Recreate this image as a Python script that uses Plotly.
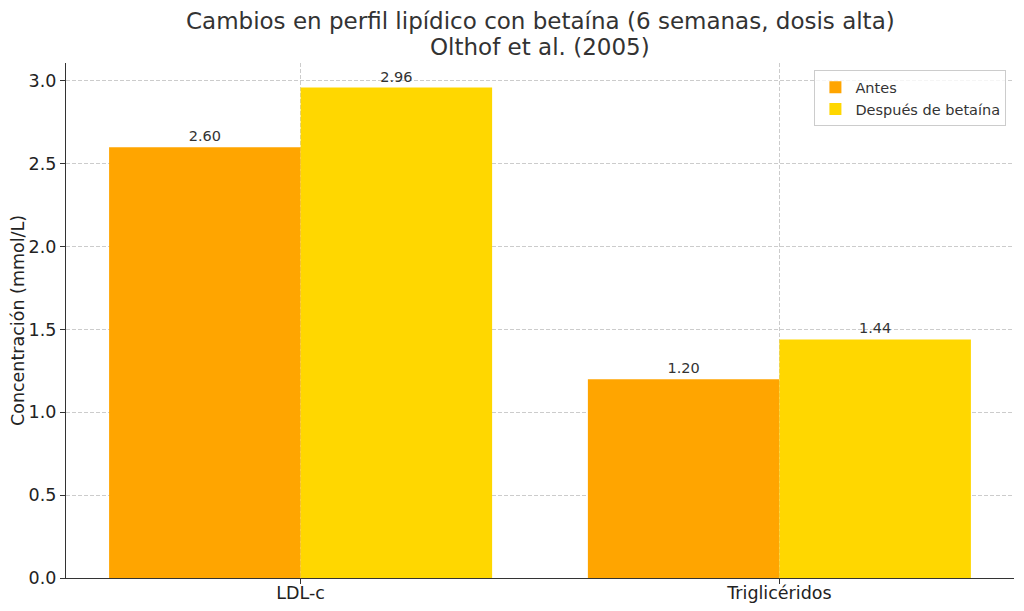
import plotly.graph_objects as go

categorias = ["LDL-c", "Triglicéridos"]
antes = [2.60, 1.20]
despues = [2.96, 1.44]
posiciones = [0, 1]

titulo = "Cambios en perfil lipídico con betaína (6 semanas, dosis alta)"
subtitulo = "Olthof et al. (2005)"

fig = go.Figure()

fig.add_trace(go.Bar(
    x=posiciones, y=antes, name="Antes",
    marker_color="#FFA500", marker_line_width=0,
    text=[f"{v:.2f}" for v in antes], textposition="outside",
    textfont=dict(size=14.5, color="#333333"),
))
fig.add_trace(go.Bar(
    x=posiciones, y=despues, name="Después de betaína",
    marker_color="#FFD700", marker_line_width=0,
    text=[f"{v:.2f}" for v in despues], textposition="outside",
    textfont=dict(size=14.5, color="#333333"),
))

# the page body has an 8px margin, so the figure is sized to the window minus that
fig.update_layout(
    width=1008, height=595,
    barmode="group", bargap=0.2, bargroupgap=0,
    paper_bgcolor="white", plot_bgcolor="white",
    font=dict(family="DejaVu Sans", color="#333333"),
    margin=dict(l=58, r=2, t=55, b=25),
    legend=dict(
        x=0.992, y=0.986, xanchor="right", yanchor="top",
        bgcolor="rgba(255,255,255,0.8)", bordercolor="#cccccc", borderwidth=1,
        font=dict(size=14.5, color="#333333"), tracegroupgap=0,
    ),
    xaxis=dict(
        range=[-0.49, 1.49], automargin=False,
        tickvals=posiciones, ticktext=categorias,
        tickfont=dict(size=17.5, color="#222222"),
        ticklabelstandoff=-6,
        showgrid=True, gridcolor="#cccccc", griddash="4px,2px", gridwidth=1,
        showline=True, linecolor="#333333", linewidth=1.2,
        ticks="outside", ticklen=5, tickcolor="#333333",
        zeroline=False,
    ),
    yaxis=dict(
        range=[0, 3.108], automargin=False,
        tickvals=[0, 0.5, 1.0, 1.5, 2.0, 2.5, 3.0],
        tickformat=".1f",
        tickfont=dict(size=17.5, color="#222222"),
        title=dict(text="Concentración (mmol/L)", font=dict(size=17.5, color="#222222"), standoff=6),
        showgrid=True, gridcolor="#cccccc", griddash="4px,2px", gridwidth=1,
        showline=True, linecolor="#333333", linewidth=1.2,
        ticks="outside", ticklen=5, tickcolor="#333333",
        zeroline=False,
    ),
)

for texto, desplaz in [(titulo, 42), (subtitulo, 16)]:
    fig.add_annotation(
        text=texto, xref="paper", yref="paper", x=0.5, y=1,
        xanchor="center", yanchor="middle", yshift=desplaz, showarrow=False,
        font=dict(size=23, color="#333333"),
    )

fig.write_html("out.html")
